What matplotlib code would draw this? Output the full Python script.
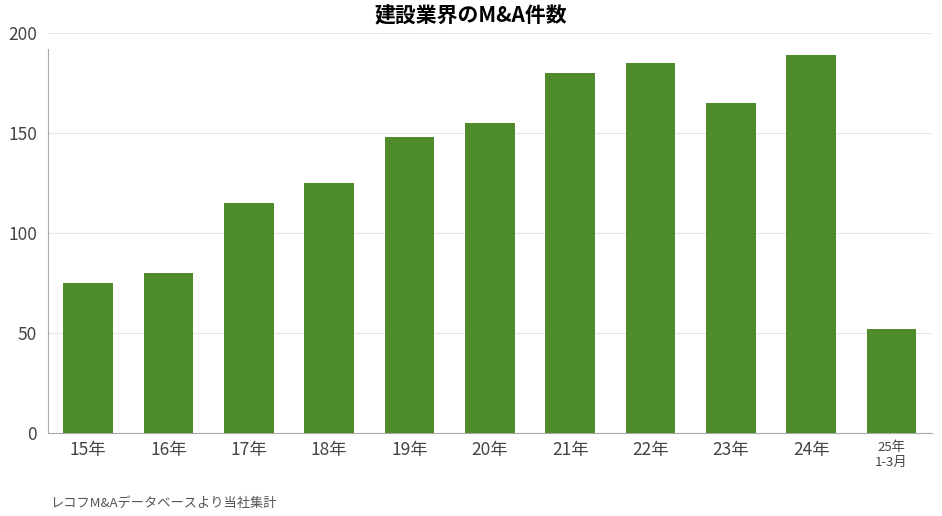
import matplotlib
matplotlib.use("Agg")
import matplotlib.pyplot as plt

plt.rcParams['font.family'] = ['Noto Sans CJK JP', 'DejaVu Sans']

labels = ["15年", "16年", "17年", "18年", "19年", "20年", "21年", "22年", "23年", "24年", "25年\n1-3月"]
counts = [75, 80, 115, 125, 148, 155, 180, 185, 165, 189, 52]

fig = plt.figure(figsize=(9.42, 5.16), dpi=100)
ax = fig.add_axes([0.051, 0.161, 0.938, 0.775])

ax.bar(range(len(counts)), counts, width=0.62, color="#4e8b2c", zorder=3)
ax.set_xlim(-0.5, len(counts) - 0.5)
ax.set_ylim(0, 200)
ax.set_yticks([0, 50, 100, 150, 200])
ax.set_xticks(range(len(labels)))
ax.set_xticklabels(labels, color="#444444")
for t, lab in zip(ax.get_xticklabels(), labels):
    t.set_fontsize(9.5 if "\n" in lab else 12.5)
    if "\n" in lab:
        t.set_linespacing(1.2)
ax.tick_params(axis="y", labelsize=12.5, colors="#444444", length=0, pad=8)
ax.tick_params(axis="x", length=0, pad=6)
ax.grid(axis="y", color="#e6e6e6", linewidth=0.8, zorder=0)
for s in ["top", "right"]:
    ax.spines[s].set_visible(False)
for s in ["left", "bottom"]:
    ax.spines[s].set_color("#aaaaaa")
    ax.spines[s].set_linewidth(0.8)
ax.spines["left"].set_bounds(0, 192)

fig.text(0.5, 0.97, "建設業界のM&A件数", ha="center", va="center", fontsize=15, fontweight="bold")
fig.text(0.053, 0.025, "レコフM&Aデータベースより当社集計", ha="left", va="center", fontsize=9.5, color="#555555")

fig.savefig("out.png", dpi=100)
